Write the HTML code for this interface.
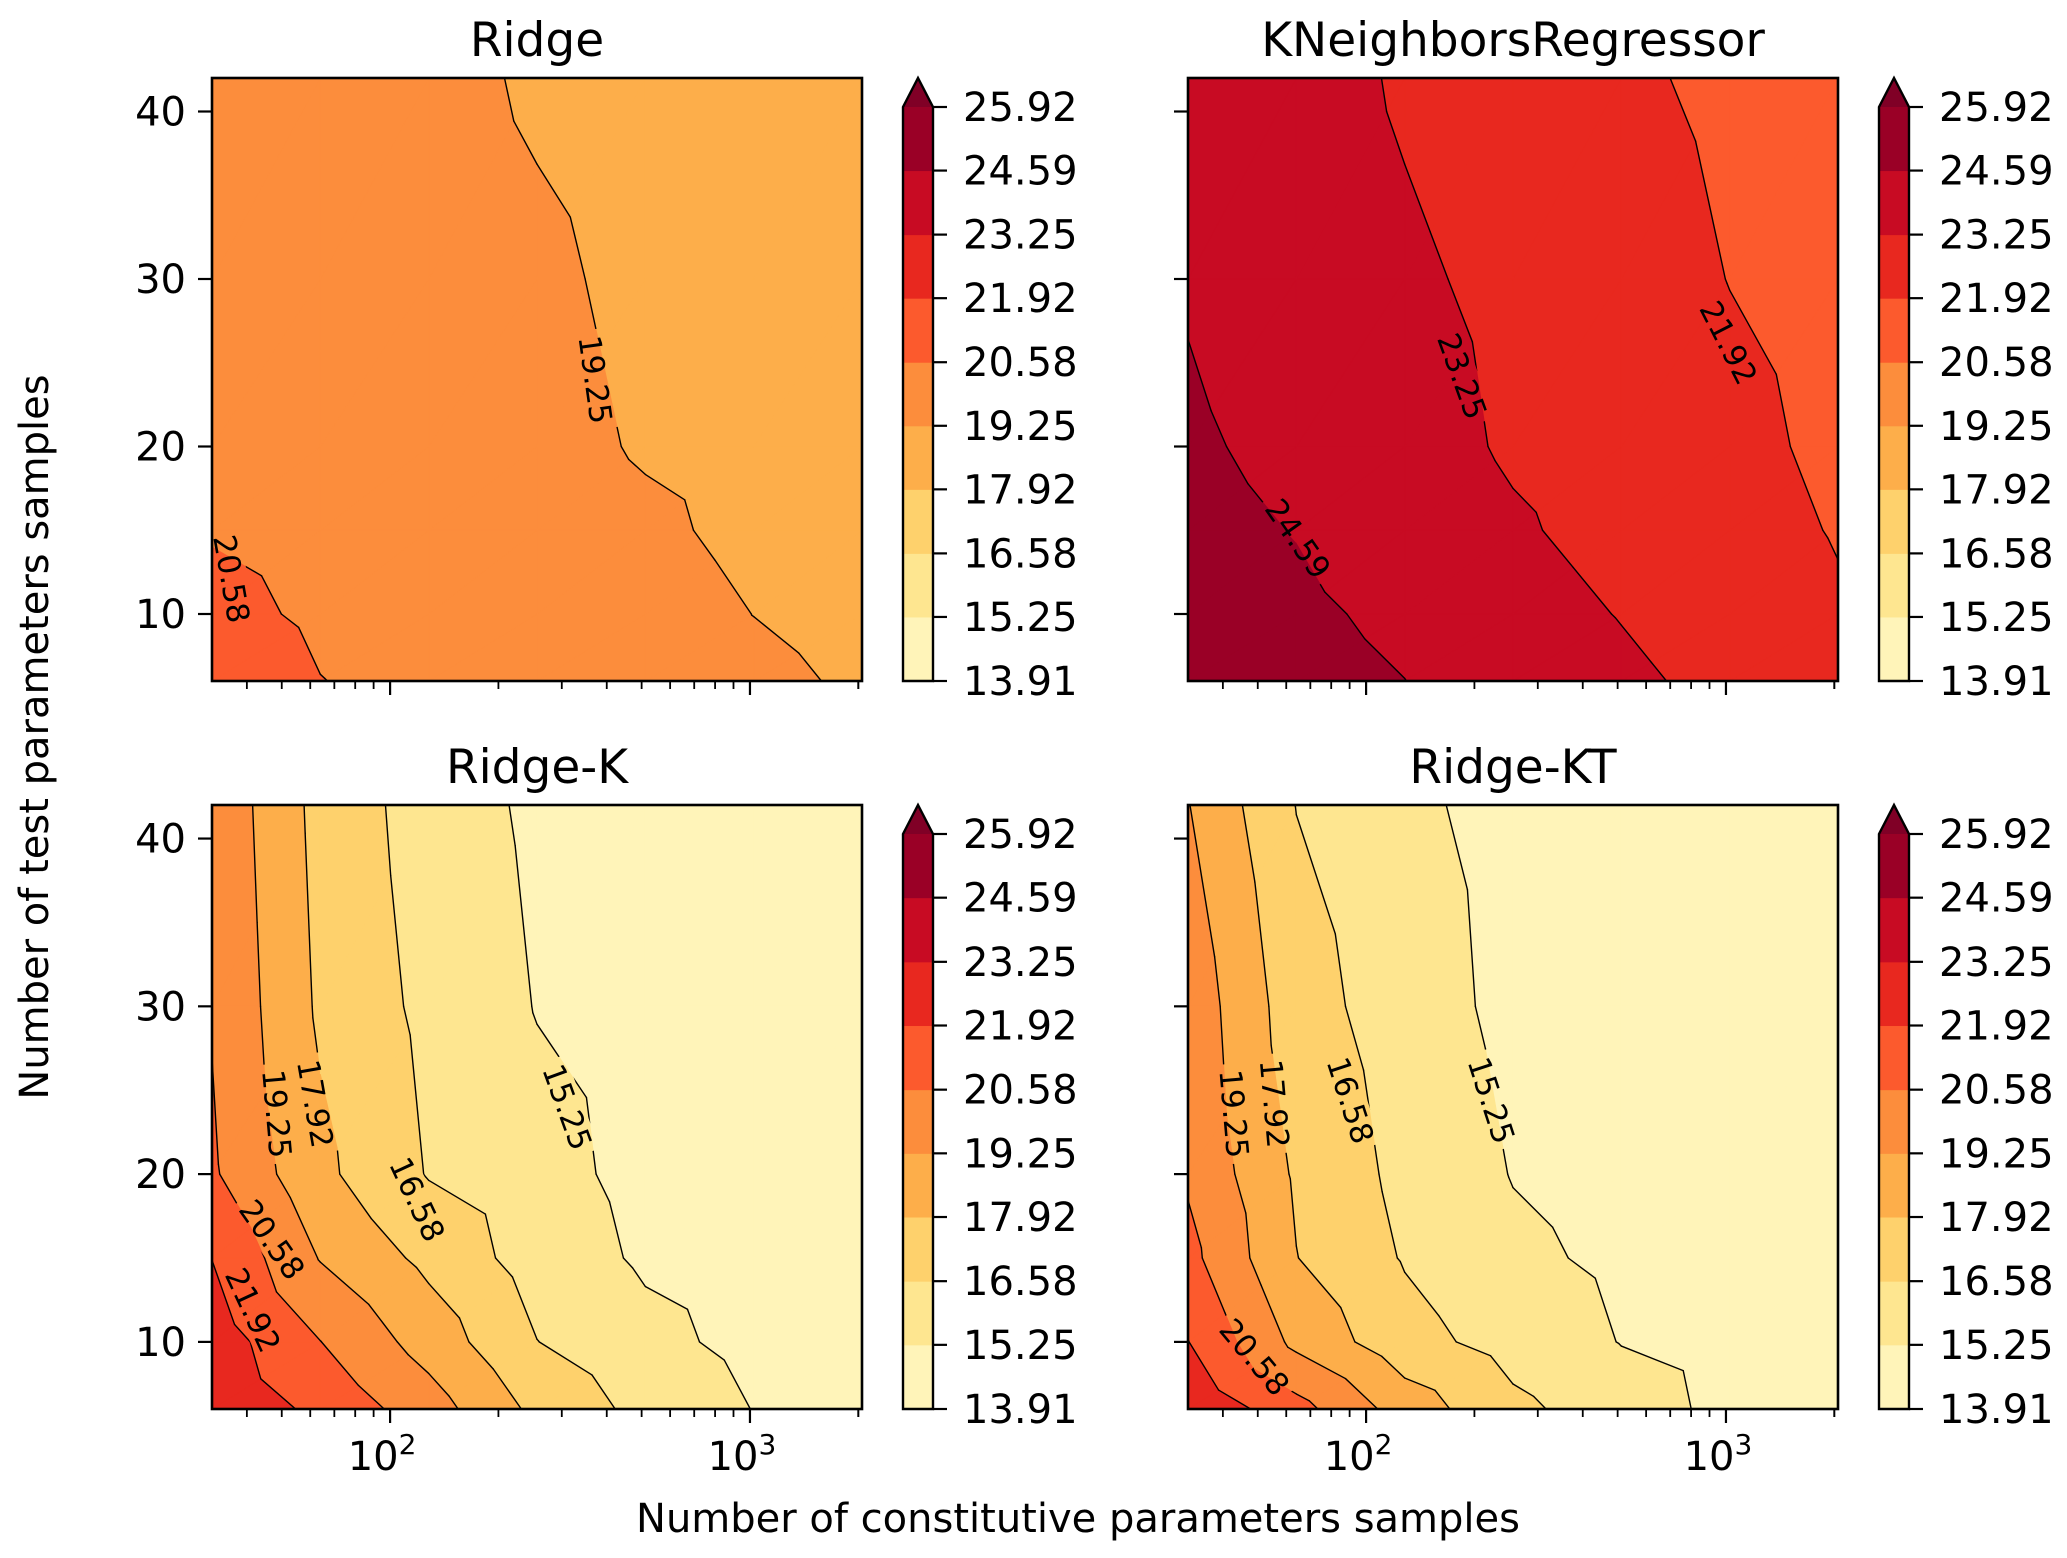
<!DOCTYPE html>
<html><head><meta charset="utf-8"><style>
html,body{margin:0;padding:0;background:#fff}
svg{display:block}
text{font-family:"DejaVu Sans","Liberation Sans",sans-serif;fill:#000}
</style></head><body>
<svg id="fig" xmlns="http://www.w3.org/2000/svg" width="2067" height="1558" viewBox="0 0 2067 1558">
<rect x="0" y="0" width="2067" height="1558" fill="#fff"/>
<text x="1078" y="1532" font-size="40" text-anchor="middle">Number of constitutive parameters samples</text>
<text x="0" y="0" font-size="40" text-anchor="middle" transform="translate(48,737) rotate(-90)">Number of test parameters samples</text>
</svg>
<script>
const xVals=[32,64,128,256,512,1024,2048];
const yVals=[6,10,15,20,30,42];
const levels=[13.91,15.25,16.58,17.92,19.25,20.58,21.92,23.25,24.59,25.92];
const levelLabels=["13.91","15.25","16.58","17.92","19.25","20.58","21.92","23.25","24.59","25.92"];
const yTicks=[10,20,30,40];
const ridgeZ=[
[21.3,20.6,20.3,20.0,19.8,19.5,19.1],
[20.9,20.4,20.1,19.9,19.7,19.24,18.9],
[20.5,20.2,20.0,19.8,19.45,19.0,18.8],
[20.2,20.0,19.9,19.6,19.15,18.9,18.7],
[20.1,20.0,19.8,19.45,19.0,18.8,18.7],
[20.1,19.9,19.6,19.1,18.8,18.7,18.6]];
const knnZ=[
[25.3,25.0,24.6,24.1,23.5,22.9,22.4],
[25.15,24.8,24.35,23.75,23.2,22.6,22.05],
[24.95,24.55,24.0,23.4,22.85,22.35,21.85],
[24.75,24.3,23.75,23.1,22.7,22.2,21.7],
[24.5,24.0,23.45,22.95,22.4,21.9,21.55],
[24.3,23.8,23.1,22.6,22.1,21.7,21.4]];
const ridgeKZ=[
[23.0,21.6,19.87,17.59,16.19,15.22,14.9],
[22.64,20.6,18.7,16.6,15.6,14.9,14.6],
[21.9,19.18,17.58,15.96,15.07,14.7,14.5],
[20.76,18.23,16.5,15.67,14.9,14.6,14.4],
[20.5,17.71,16.24,15.2,14.75,14.5,14.35],
[20.3,17.5,15.97,15.0,14.6,14.4,14.3]];
const ridgeKTZ=[
[23.1,21.06,18.65,16.9,15.85,14.92,14.6],
[21.95,18.92,17.07,16.04,15.21,14.8,14.5],
[20.98,17.95,16.48,15.51,15.0,14.6,14.4],
[20.4,17.74,16.22,15.2,14.8,14.5,14.35],
[20.13,17.17,15.87,14.92,14.6,14.4,14.3],
[19.3,16.55,15.53,14.8,14.6,14.4,14.3]];
// contour label annotations: [level text, x data, y data, rotation]
const ridgeLabels=[["20.58",36.3,12.1,80],["19.25",372,24,82]];
const knnLabels=[["24.59",64.7,14.5,55],["23.25",185,24.2,70],["21.92",1017,26.2,63]];
const ridgeKLabels=[["19.25",48.5,23.6,85],["17.92",62,24.2,80],["16.58",119,18.5,65],["15.25",311,24.0,70],["20.58",47,16.1,55],["21.92",41.6,11.9,65]];
const ridgeKTLabels=[["19.25",43,23.6,85],["17.92",55.7,24.2,85],["16.58",90.5,24.4,72],["15.25",223,24.4,72],["20.58",49,9.1,50]];
const bandColors=["#fff4b9","#fee690","#fed16c","#fdae4a","#fc8d3c","#fc5a2d","#e8281f","#c80b23","#9a0026"];
const overColor="#800026";

const svg=document.getElementById('fig');
const NS="http://www.w3.org/2000/svg";
function mk(tag,attrs,parent){const e=document.createElementNS(NS,tag);for(const k in attrs)e.setAttribute(k,attrs[k]);(parent||svg).appendChild(e);return e;}

const panels=[
 {name:"ridge",title:"Ridge",z:ridgeZ,labels:ridgeLabels,L:212,T:78,W:650,H:603,ylab:true,xlab:false,cbx:903},
 {name:"kneighbors",title:"KNeighborsRegressor",z:knnZ,labels:knnLabels,L:1188,T:78,W:650,H:603,ylab:false,xlab:false,cbx:1879},
 {name:"ridge-k",title:"Ridge-K",z:ridgeKZ,labels:ridgeKLabels,L:212,T:805,W:650,H:604,ylab:true,xlab:true,cbx:903},
 {name:"ridge-kt",title:"Ridge-KT",z:ridgeKTZ,labels:ridgeKTLabels,L:1188,T:805,W:650,H:604,ylab:false,xlab:true,cbx:1879}
];
const XMIN=32,XMAX=2048,YMIN=6,YMAX=42;

function clip(poly,lv,above){
 const out=[];
 for(let i=0;i<poly.length;i++){
  const a=poly[i],b=poly[(i+1)%poly.length];
  const ina=above?a.v>=lv:a.v<lv, inb=above?b.v>=lv:b.v<lv;
  if(ina)out.push(a);
  if(ina!==inb){const t=(lv-a.v)/(b.v-a.v);out.push({x:a.x+t*(b.x-a.x),y:a.y+t*(b.y-a.y),v:lv});}
 }
 return out;
}

panels.forEach(p=>{
 const xs=v=>p.L+(Math.log2(v)-Math.log2(XMIN))/(Math.log2(XMAX)-Math.log2(XMIN))*p.W;
 const ys=v=>p.T+p.H-(v-YMIN)/(YMAX-YMIN)*p.H;
 const g=mk('g',{});
 
 
 const clipId='clip-'+p.name;
 const cp=mk('clipPath',{id:clipId},g);
 mk('rect',{x:p.L,y:p.T,width:p.W,height:p.H},cp);
 const maskId='mask-'+p.name;
 const mask=mk('mask',{id:maskId,maskUnits:'userSpaceOnUse',x:0,y:0,width:2067,height:1558},g);
 mk('rect',{x:0,y:0,width:2067,height:1558,fill:'#fff'},mask);
 const fillG=mk('g',{'clip-path':'url(#'+clipId+')'},g);
 
 
 const lineWrap=mk('g',{'clip-path':'url(#'+clipId+')'},g);
 const lineG=mk('g',{mask:'url(#'+maskId+')'},lineWrap);
 
 
 const tris=[];
 for(let j=0;j<yVals.length-1;j++)for(let i=0;i<xVals.length-1;i++){
  const P=(ii,jj)=>({x:xs(xVals[ii]),y:ys(yVals[jj]),v:p.z[jj][ii]});
  const a=P(i,j),b=P(i+1,j),c=P(i+1,j+1),d=P(i,j+1);
  tris.push([a,b,c],[a,c,d]);
 }
 const bounds=[-1e9].concat(levels.slice(1,levels.length-1)).concat([levels[levels.length-1],1e9]);
 const cols=bandColors.concat([overColor]);
 tris.forEach(t=>{
  for(let bi=0;bi<bounds.length-1;bi++){
   let poly=clip(t,bounds[bi],true);
   if(poly.length<3)continue;
   poly=clip(poly,bounds[bi+1],false);
   if(poly.length<3)continue;
   const pg=mk('polygon',{points:poly.map(q=>q.x.toFixed(2)+','+q.y.toFixed(2)).join(' '),fill:cols[bi],stroke:cols[bi],'stroke-width':'0.8'},fillG);
   
   
  }
  levels.slice(1,levels.length-1).forEach(lv=>{
   const pts=[];
   for(let e=0;e<3;e++){const a=t[e],b=t[(e+1)%3];
    if((a.v<lv)!==(b.v<lv)){const tt=(lv-a.v)/(b.v-a.v);pts.push([a.x+tt*(b.x-a.x),a.y+tt*(b.y-a.y)]);}}
   if(pts.length===2){
    const ln=mk('line',{x1:pts[0][0],y1:pts[0][1],x2:pts[1][0],y2:pts[1][1],stroke:'#000','stroke-width':'1.4','stroke-linecap':'round'},lineG);
    
    
   }
  });
 });
 // labels (gap cut out of lines via mask)
 p.labels.forEach(lb=>{
  const cx=xs(lb[1]),cy=ys(lb[2]);
  mk('rect',{x:-50,y:-16,width:100,height:32,fill:'#000',transform:'translate('+cx+','+cy+') rotate('+lb[3]+')'},mask);
  const lg=mk('g',{transform:'translate('+cx+','+cy+') rotate('+lb[3]+')'},g);
  
  
  const tx=mk('text',{x:0,y:11,'font-size':'31','text-anchor':'middle'},lg);
  tx.textContent=lb[0];
 });
 // frame
 const fr=mk('rect',{x:p.L,y:p.T,width:p.W,height:p.H,fill:'none',stroke:'#000','stroke-width':'2.6'},g);
 
 
 // title
 const tt=mk('text',{x:p.L+p.W/2,y:p.T-22,'font-size':'47','text-anchor':'middle'},g);
 
 
 tt.textContent=p.title;
 // y ticks
 yTicks.forEach(v=>{
  const y=ys(v);
  const tk=mk('line',{x1:p.L-14,y1:y,x2:p.L,y2:y,stroke:'#000','stroke-width':'2.2'},g);
  
  
  if(p.ylab){const t=mk('text',{x:p.L-26,y:y+14,'font-size':'40','text-anchor':'end'},g);
   
   
   t.textContent=v;}
 });
 // x ticks
 for(let dec=10;dec<=1000;dec*=10){for(let m=1;m<10;m++){const v=dec*m;if(v<XMIN||v>XMAX)continue;
  const x=xs(v);const major=(m===1);
  const tk=mk('line',{x1:x,y1:p.T+p.H,x2:x,y2:p.T+p.H+(major?14:8),stroke:'#000','stroke-width':major?'2.2':'1.8'},g);
  
  
  if(major&&p.xlab){const t=mk('text',{x:x-8,y:p.T+p.H+61,'font-size':'40','text-anchor':'middle'},g);
   
   
   t.textContent='10';
   const s=mk('tspan',{dy:'-16','font-size':'28'},t);s.textContent=String(Math.round(Math.log10(v)));}
 }}
 {const x=xs(2000);const tk=mk('line',{x1:x,y1:p.T+p.H,x2:x,y2:p.T+p.H+8,stroke:'#000','stroke-width':'1.8'},g);
  
  }
 // colorbar
 const cbG=mk('g',{},g);
 
 
 const cbTop=p.T+29,cbBot=p.T+p.H,cbW=30;
 const cy=v=>cbBot-(v-levels[0])/(levels[levels.length-1]-levels[0])*(cbBot-cbTop);
 for(let i=0;i<levels.length-1;i++){
  const r=mk('rect',{x:p.cbx,y:cy(levels[i+1]),width:cbW,height:cy(levels[i])-cy(levels[i+1])+0.5,fill:bandColors[i]},cbG);
  
  
 }
 const ar=mk('polygon',{points:p.cbx+','+cbTop+' '+(p.cbx+cbW/2)+','+p.T+' '+(p.cbx+cbW)+','+cbTop,fill:overColor},cbG);
 
 
 mk('polygon',{points:p.cbx+','+cbBot+' '+p.cbx+','+cbTop+' '+(p.cbx+cbW/2)+','+p.T+' '+(p.cbx+cbW)+','+cbTop+' '+(p.cbx+cbW)+','+cbBot,fill:'none',stroke:'#000','stroke-width':'2.4'},cbG);
 levels.forEach((lv,i)=>{
  const y=cy(lv);
  const tk=mk('line',{x1:p.cbx+cbW,y1:y,x2:p.cbx+cbW+14,y2:y,stroke:'#000','stroke-width':'2.2'},cbG);
  
  
  const t=mk('text',{x:p.cbx+cbW+30,y:y+14,'font-size':'40'},cbG);
  
  
  t.textContent=levelLabels[i];
 });
});
</script>
</body></html>
